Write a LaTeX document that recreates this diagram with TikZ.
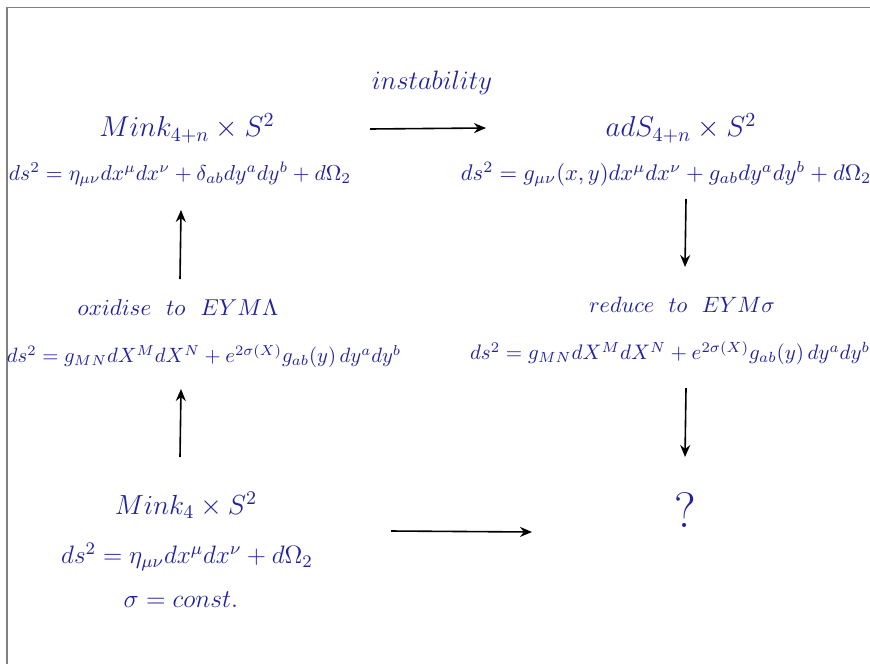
\documentclass[tikz,border=0pt]{standalone}
\usepackage{fix-cm}
\usetikzlibrary{arrows.meta}
\definecolor{eqblue}{RGB}{34,34,160}
\begin{document}
\begin{tikzpicture}[
  x=0.5pt,y=-0.5pt,
  big/.style={text=eqblue, font=\Large, inner sep=0pt},
  eq/.style={text=eqblue, font=\fontsize{#1}{#1}\selectfont, inner sep=0pt},
  eq/.default=12,
  arr/.style={-{Stealth[length=6pt,width=5pt]}, thick}
]
\useasboundingbox (0,0) rectangle (870,664);
\draw[gray, line width=0.6pt] (7,664) -- (7,7.5) -- (870,7.5);

\node[eq=13.3] (instab) at (432,83) {$instability$};
\node[big] (minkn) at (187,128) {$Mink_{4+n}\times S^2$};
\node[eq=10.8] (minknmet) at (180,174) {$ds^2=\eta_{\mu\nu}dx^\mu dx^\nu+\delta_{ab}dy^a dy^b+d\Omega_2$};
\node[big] (ads) at (681,128) {$adS_{4+n}\times S^2$};
\node[eq=11.3] (adsmet) at (666,174) {$ds^2=g_{\mu\nu}(x,y)dx^\mu dx^\nu+g_{ab}dy^a dy^b+d\Omega_2$};

\node[eq=11.5] (oxid) at (178,308) {$oxidise\ \ to\ \ EYM\Lambda$};
\node[eq=10.35] (oxidmet) at (204,356) {$ds^2=g_{MN}dX^M dX^N+e^{2\sigma(X)}g_{ab}(y)\,dy^a dy^b$};
\node[eq=11.1] (reduce) at (682,305) {$reduce\ \ to\ \ EYM\sigma$};
\node[eq=10.5] (redmet) at (670,353) {$ds^2=g_{MN}dX^M dX^N+e^{2\sigma(X)}g_{ab}(y)\,dy^a dy^b$};

\node[eq=13.8] (minkf) at (186,505) {$Mink_4\times S^2$};
\node[eq=12.6] (minkfmet) at (187,557) {$ds^2=\eta_{\mu\nu}dx^\mu dx^\nu+d\Omega_2$};
\node[eq=12.8] (sigma) at (181,600) {$\sigma=const.$};
\node[text=eqblue, font=\Huge, inner sep=0pt] (quest) at (685,510) {?};

\coordinate (topl) at (370,129);
\coordinate (topr) at (486,128);
\coordinate (botl) at (391,531);
\coordinate (botr) at (532,532);
\coordinate (rdowna) at (686,199);
\coordinate (rdownb) at (685,267);
\coordinate (rdownc) at (686,388);
\coordinate (rdownd) at (685,457);
\coordinate (lupa) at (180,457);
\coordinate (lupb) at (181,389);
\coordinate (lupc) at (180,279);
\coordinate (lupd) at (181,210);

\draw[arr] (topl) -- (topr);
\draw[arr] (botl) -- (botr);
\draw[arr] (rdowna) -- (rdownb);
\draw[arr] (rdownc) -- (rdownd);
\draw[arr] (lupa) -- (lupb);
\draw[arr] (lupc) -- (lupd);
\end{tikzpicture}
\end{document}
